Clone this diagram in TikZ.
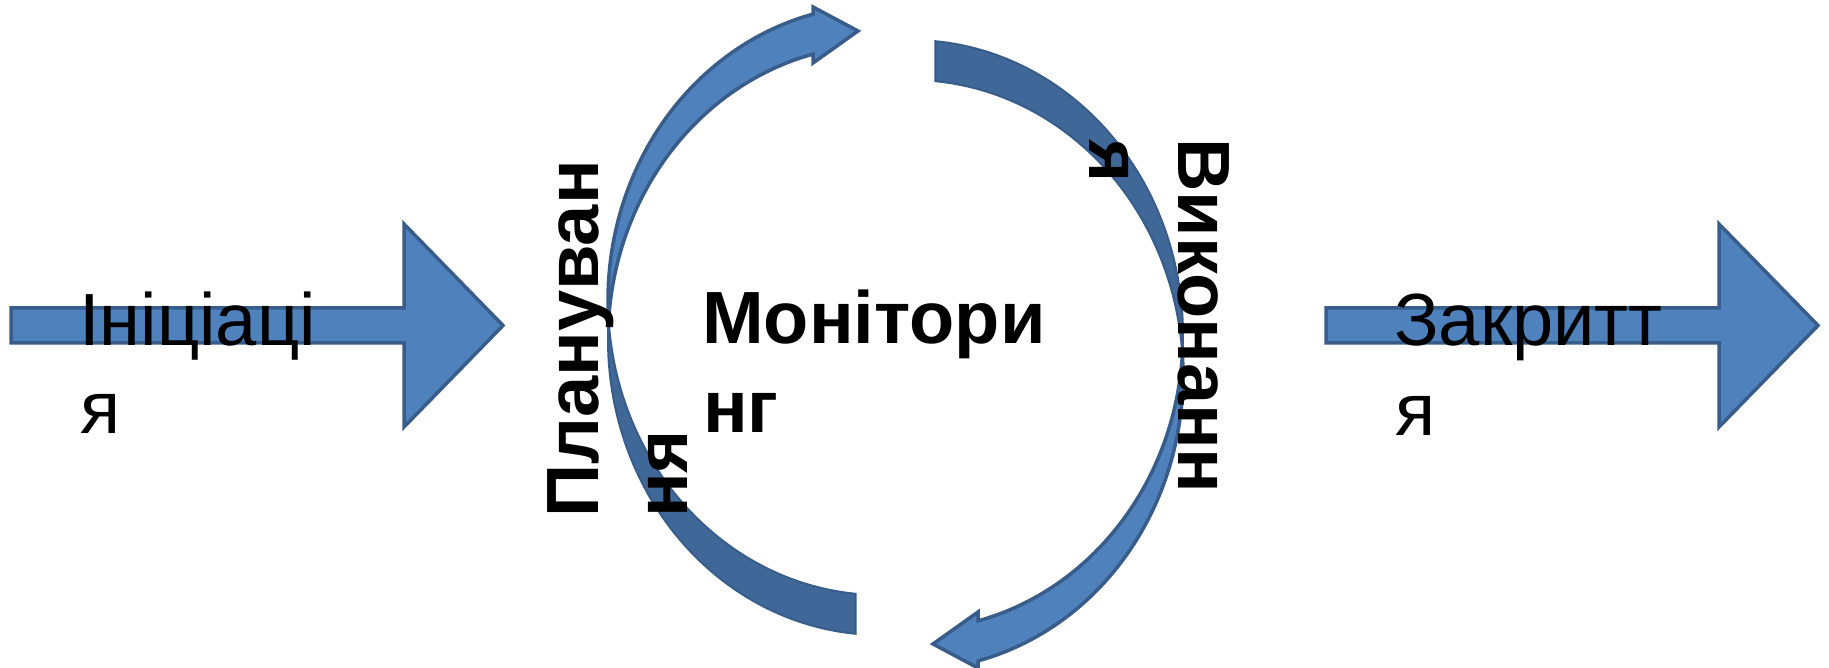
\documentclass[tikz,border=0pt]{standalone}
\usepackage{fontspec}
\setmainfont{Liberation Sans}
\definecolor{fillA}{HTML}{4F81BD}
\definecolor{lineA}{HTML}{385D8A}
\definecolor{fillB}{HTML}{3F6797}
\tikzset{
  front/.style={fill=fillA, draw=lineA, line width=3.5pt, line join=miter},
  back/.style={fill=fillB, draw=lineA, line width=2pt},
  lbl/.style={inner sep=0pt, text=black, font=\fontsize{74}{88}\selectfont},
  blbl/.style={inner sep=0pt, text=black, font=\fontsize{74}{88}\selectfont\bfseries}
}
\newcommand\myBentArrow{%
  % dark back half (lower)
  \draw[back] plot[domain=176.11:264.85, samples=60] ({880+272*cos(\x)}, {328+295*sin(\x)})
    -- plot[domain=264.85:183.89, samples=60] ({880+272*cos(\x)}, {368+295*sin(\x)}) -- cycle;
  % light front half (upper) with head
  \draw[front] plot[domain=183.89:104.26, samples=60] ({880+272*cos(\x)}, {368+295*sin(\x)})
    -- (813,661) -- (858,637) -- (813,605)
    -- plot[domain=104.26:176.11, samples=60] ({880+272*cos(\x)}, {328+295*sin(\x)}) -- cycle;
}
\begin{document}
\begin{tikzpicture}[x=1pt,y=1pt]
\useasboundingbox[fill=white] (0,0) rectangle (1829,668);
% straight arrows
\draw[front] (11,360) -- (404,360) -- (404,444) -- (503,342.5) -- (404,241) -- (404,325) -- (11,325) -- cycle;
\draw[front] (1326,360) -- (1719,360) -- (1719,444) -- (1818,342.5) -- (1719,241) -- (1719,325) -- (1326,325) -- cycle;
% curved arrows
\begin{scope}
  \myBentArrow
\end{scope}
\begin{scope}[rotate around={180:(895.5,330.5)}]
  \myBentArrow
\end{scope}
% labels
\node[lbl, anchor=base west] (ini1) at (79,322) {Ініціаці};
\node[lbl, anchor=base west] (ini2) at (80,234) {я};
\node[lbl, anchor=base west] (clo1) at (1394,322) {Закритт};
\node[lbl, anchor=base west] (clo2) at (1395,232) {я};
\node[blbl, anchor=base west] (mon1) at (702,324) {Монітори};
\node[blbl, anchor=base west] (mon2) at (703,235) {нг};
\node[blbl, anchor=base west, rotate=90] (pla1) at (598,150) {Плануван};
\node[blbl, anchor=base west, rotate=90] (pla2) at (687,150) {ня};
\node[blbl, anchor=base west, rotate=-90] (exe1) at (1178,530) {Виконанн};
\node[blbl, anchor=base west, rotate=-90] (exe2) at (1089,529) {я};
\end{tikzpicture}
\end{document}
